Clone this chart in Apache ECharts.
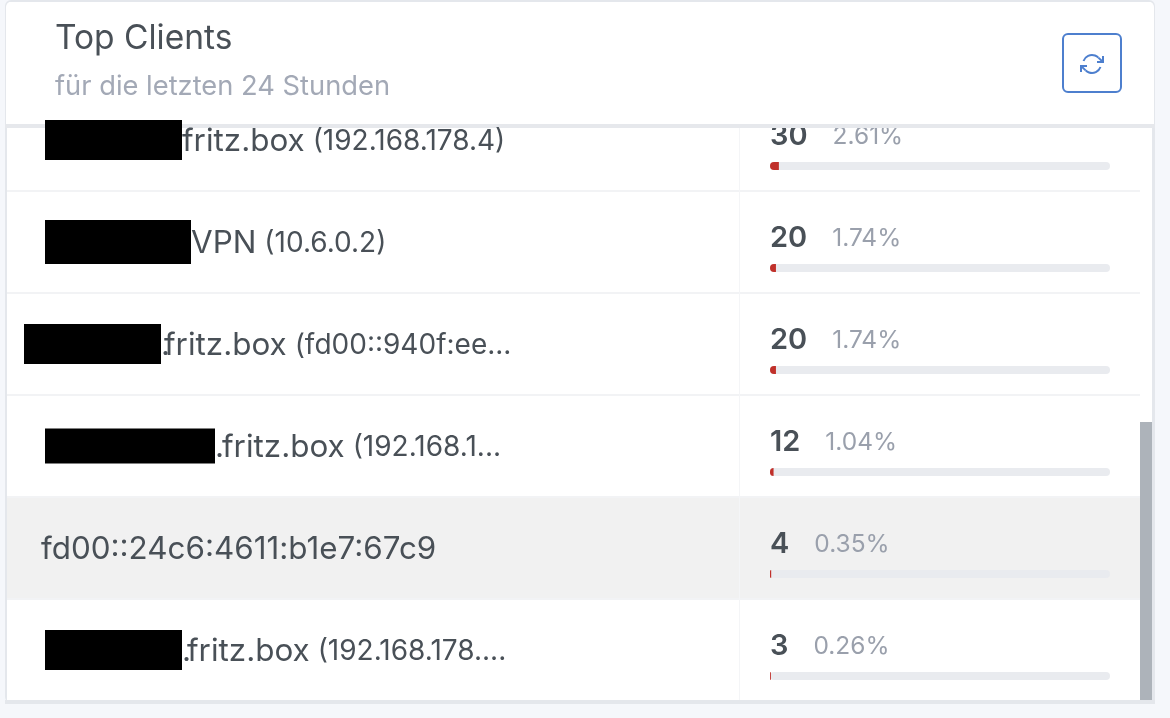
<!DOCTYPE html>
<html>
<head>
<meta charset="utf-8">
<title>Top Clients</title>
<script src="https://cdn.jsdelivr.net/npm/echarts@6/dist/echarts.min.js"></script>
<style>
  html, body { margin: 0; padding: 0; background: #f5f7fb; }
  #chart { width: 1170px; height: 718px; }
</style>
</head>
<body>
<div id="chart"></div>
<script>
var clientNames = ["fritz.box", "VPN", ".fritz.box", ".fritz.box", "fd00::24c6:4611:b1e7:67c9", ".fritz.box"];
var clientIps = ["(192.168.178.4)", "(10.6.0.2)", "(fd00::940f:ee...", "(192.168.1...", "", "(192.168.178...."];
var requestCounts = [30, 20, 20, 12, 4, 3];
var requestPercents = [2.61, 1.74, 1.74, 1.04, 0.35, 0.26];

var FONT = "Inter";
var myChart = echarts.init(document.getElementById("chart"));

// row index -> blacked out part of the hostname
var maskWidths = [137, 146, 137, 170, 0, 137];
var maskHeights = [40, 44, 40, 35, 0, 40];
var leadPads = [21, 21, 0, 21, 17, 21];
// the dot after the mask is partly hidden in the original, so it takes less room
var dotWidths = [0, 0, 3, 7, 0, 5];

var nameRich = {
  name: { fontFamily: FONT, fontSize: 31.4, color: "#495057", padding: [3, 0, 0, 0] },
  ip: { fontFamily: FONT, fontSize: 28, color: "#495057", padding: [3, 0, 0, 8] },
};
clientNames.forEach(function (n, i) {
  nameRich["pad" + i] = { width: leadPads[i], fontSize: 10 };
  nameRich["mask" + i] = { width: maskWidths[i], height: maskHeights[i], backgroundColor: "#000", fontSize: 10 };
  nameRich["dot" + i] = { width: dotWidths[i], fontFamily: FONT, fontSize: 31.4, color: "#495057", padding: [3, 0, 0, 0] };
});

var iconStyle = { fill: "none", stroke: "#4d7fce", lineWidth: 2 };
var DEG = Math.PI / 180;

var option = {
  backgroundColor: "#f5f7fb",
  animation: false,
  title: {
    text: "Top Clients",
    subtext: "für die letzten 24 Stunden",
    left: 50,
    top: 17,
    z: 12,
    itemGap: 17,
    textStyle: { fontFamily: FONT, fontSize: 33.5, fontWeight: 400, color: "#495057" },
    subtextStyle: { fontFamily: FONT, fontSize: 27.3, color: "#a3a9b6" },
  },
  grid: [
    { left: 770, top: 115, width: 340, height: 612, outerBoundsMode: "none" },
    { left: 7, top: 89, width: 1133, height: 612, outerBoundsMode: "none" },
  ],
  xAxis: [
    { gridIndex: 0, type: "value", min: 0, max: 100, show: false },
    { gridIndex: 1, type: "value", min: 0, max: 1, show: false },
  ],
  yAxis: [
    {
      gridIndex: 0,
      type: "category",
      inverse: true,
      position: "left",
      data: clientNames,
      axisLine: { show: false },
      axisTick: { show: false },
      axisLabel: { show: false },
    },
    {
      // row separators and the hovered row
      gridIndex: 1,
      type: "category",
      inverse: true,
      position: "left",
      z: 1,
      data: clientNames,
      axisLine: { show: false },
      axisTick: { show: false },
      axisLabel: { show: false },
      splitLine: {
        show: true,
        interval: 0,
        showMinLine: false,
        showMaxLine: false,
        lineStyle: { color: "#f2f3f5", width: 2 },
      },
      splitArea: {
        show: true,
        interval: 0,
        areaStyle: { color: ["#fff", "#fff", "#fff", "#fff", "#f1f1f1", "#fff"] },
      },
    },
    {
      // host names sit above the header edge, like the masks in the original
      gridIndex: 1,
      type: "category",
      inverse: true,
      position: "left",
      z: 20,
      data: clientNames,
      axisLine: { show: false },
      axisTick: { show: false },
      axisLabel: {
        inside: true,
        margin: 17,
        interval: 0,
        align: "left",
        rich: nameRich,
        formatter: function (value, i) {
          var s = "{pad" + i + "| }";
          if (maskWidths[i]) s += "{mask" + i + "| }";
          if (value.charAt(0) === ".") {
            s += "{dot" + i + "|.}{name|" + value.slice(1) + "}";
          } else {
            s += "{name|" + value + "}";
          }
          if (clientIps[i]) s += "{ip|" + clientIps[i] + "}";
          return s;
        },
      },
    },
  ],
  series: [
    {
      type: "bar",
      xAxisIndex: 0,
      yAxisIndex: 0,
      z: 2,
      barWidth: 8,
      data: requestPercents,
      itemStyle: { color: "#c0302a", borderRadius: [4, 0, 0, 4] },
      showBackground: true,
      backgroundStyle: { color: "#e9ebef", borderRadius: 4 },
      label: {
        show: true,
        position: [0, -40],
        align: "left",
        formatter: function (p) {
          return "{c|" + requestCounts[p.dataIndex] + "}{p|" + p.value.toFixed(2) + "%}";
        },
        rich: {
          c: { fontFamily: FONT, fontSize: 29, fontWeight: 600, color: "#495057" },
          p: { fontFamily: FONT, fontSize: 24.5, color: "#9aa0ac", padding: [0, 0, 0, 25] },
        },
      },
    },
  ],
  graphic: {
    elements: [
      {
        type: "rect",
        z: -1,
        shape: { x: 6, y: 1, width: 1148, height: 701, r: 5 },
        style: { fill: "#fff", stroke: "#e4e7ec", lineWidth: 2 },
      },
      {
        type: "rect",
        z: 3,
        shape: { x: 739, y: 128, width: 1, height: 572 },
        style: { fill: "#f4f5f7" },
      },
      {
        type: "rect",
        z: 3,
        shape: { x: 1140, y: 422, width: 12, height: 278 },
        style: { fill: "#adb3ba" },
      },
      {
        type: "rect",
        z: 3,
        shape: { x: 1152, y: 128, width: 3, height: 575 },
        style: { fill: "#e4e7ec" },
      },
      {
        type: "rect",
        z: 3,
        shape: { x: 5, y: 700, width: 1150, height: 4 },
        style: { fill: "#e4e7ec" },
      },
      {
        type: "rect",
        z: 10,
        shape: { x: 6, y: 2, width: 1148, height: 122, r: [5, 5, 0, 0] },
        style: { fill: "#fff" },
      },
      {
        type: "rect",
        z: 10,
        shape: { x: 5, y: 124, width: 1150, height: 4 },
        style: { fill: "#e6e8ec" },
      },
      {
        type: "rect",
        z: 11,
        shape: { x: 1063, y: 34, width: 58, height: 58, r: 5 },
        style: { fill: "#fff", stroke: "#4d7fce", lineWidth: 2 },
      },
      {
        // refresh icon
        type: "group",
        x: 1080,
        y: 52,
        children: [
          { type: "arc", z: 11, shape: { cx: 12, cy: 12, r: 9, startAngle: -160.5 * DEG, endAngle: -45 * DEG, clockwise: true }, style: iconStyle },
          { type: "arc", z: 11, shape: { cx: 12, cy: 12, r: 9, startAngle: 19.5 * DEG, endAngle: 135 * DEG, clockwise: true }, style: iconStyle },
          { type: "polyline", z: 11, shape: { points: [[23, 4], [23, 10], [17, 10]] }, style: iconStyle },
          { type: "polyline", z: 11, shape: { points: [[1, 20], [1, 14], [7, 14]] }, style: iconStyle },
          { type: "line", z: 11, shape: { x1: 18.36, y1: 5.64, x2: 23, y2: 10 }, style: iconStyle },
          { type: "line", z: 11, shape: { x1: 1, y1: 14, x2: 5.64, y2: 18.36 }, style: iconStyle },
        ],
      },
    ],
  },
};

myChart.setOption(option);
</script>
</body>
</html>
